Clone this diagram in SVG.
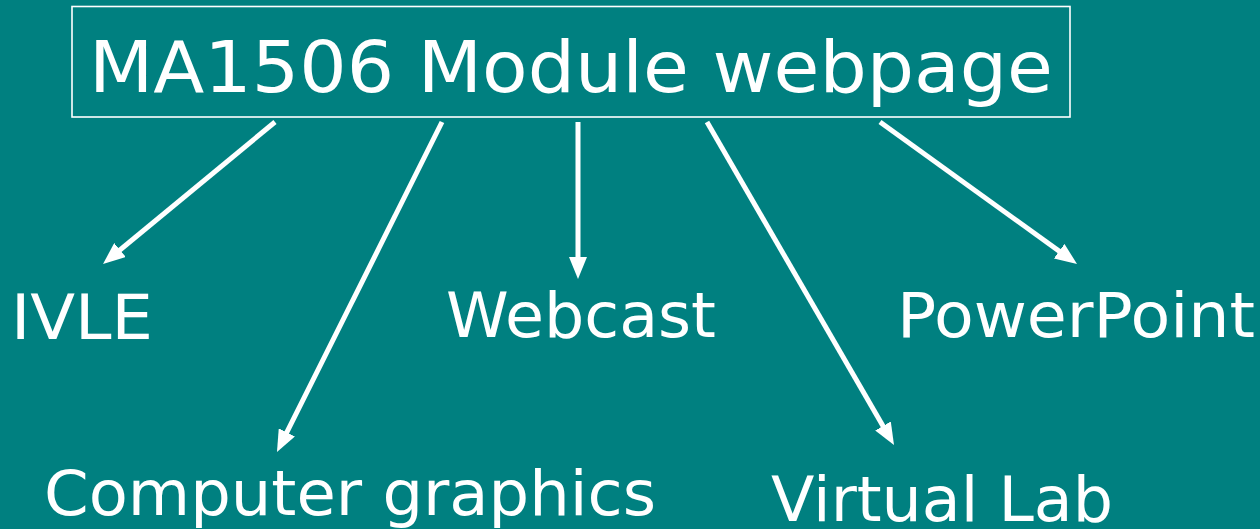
<svg xmlns="http://www.w3.org/2000/svg" width="1260" height="529" viewBox="0 0 1260 529">
<defs>
<style>
.t{font-family:"DejaVu Sans","Verdana",sans-serif;fill:#fff}
.c{stroke:#fff;stroke-width:5;fill:none}
</style>
<marker id="ah" viewBox="0 0 22 18" refX="11" refY="9" markerWidth="22" markerHeight="18" markerUnits="userSpaceOnUse" orient="auto">
<path d="M0,0 L22,9 L0,18 z" fill="#fff"/>
</marker>
</defs>
<rect width="1260" height="529" fill="#008080"/>
<g id="title">
<rect x="72" y="6.5" width="998" height="110.5" fill="none" stroke="#fff" stroke-width="1.6"/>
<text class="t" x="89" y="92" font-size="72" textLength="964" lengthAdjust="spacingAndGlyphs">MA1506 Module webpage</text>
</g>
<g id="connectors">
<line class="c" x1="275" y1="122" x2="111.5" y2="257" marker-end="url(#ah)"/>
<line class="c" x1="442" y1="122" x2="281.9" y2="442.2" marker-end="url(#ah)"/>
<line class="c" x1="578" y1="122" x2="578" y2="268" marker-end="url(#ah)"/>
<line class="c" x1="707" y1="122" x2="888.5" y2="435.5" marker-end="url(#ah)"/>
<line class="c" x1="880" y1="122" x2="1068.1" y2="257.6" marker-end="url(#ah)"/>
</g>
<g id="ivle"><text class="t" x="11" y="339" font-size="63" textLength="142" lengthAdjust="spacingAndGlyphs">IVLE</text></g>
<g id="webcast"><text class="t" x="446" y="337" font-size="63" textLength="270" lengthAdjust="spacingAndGlyphs">Webcast</text></g>
<g id="powerpoint"><text class="t" x="897" y="337" font-size="63" textLength="358" lengthAdjust="spacingAndGlyphs">PowerPoint</text></g>
<g id="computer-graphics"><text class="t" x="44" y="515" font-size="63" textLength="612" lengthAdjust="spacingAndGlyphs">Computer graphics</text></g>
<g id="virtual-lab"><text class="t" x="771" y="521" font-size="63" textLength="342" lengthAdjust="spacingAndGlyphs">Virtual Lab</text></g>
</svg>
